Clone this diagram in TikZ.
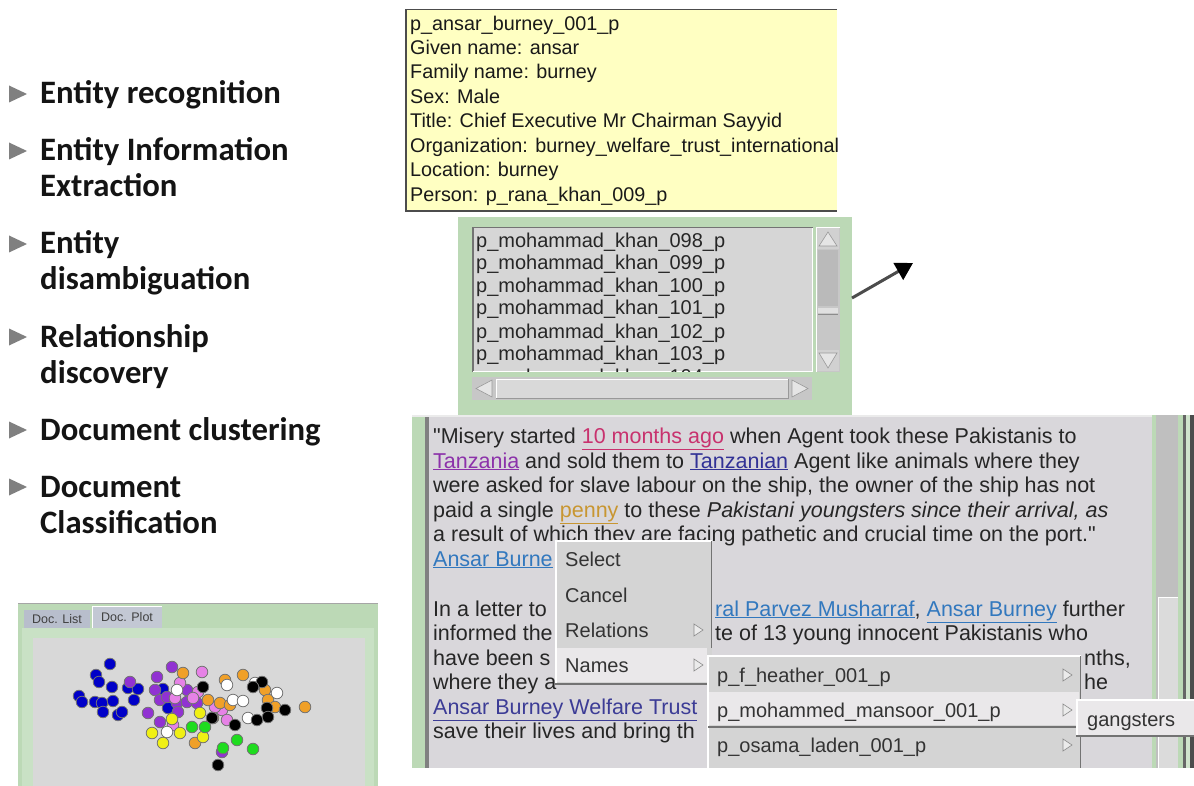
\documentclass[tikz,border=0pt]{standalone}
\usepackage{fontspec}
\setmainfont{Liberation Sans}
\newfontfamily\bulletfont{Carlito}
\usetikzlibrary{arrows.meta}
\definecolor{panelgreen}{RGB}{188,217,182}
\definecolor{docbg}{RGB}{217,215,219}
\definecolor{listbg}{RGB}{214,214,214}
\definecolor{menubg}{RGB}{212,212,212}
\definecolor{menuhl}{RGB}{234,232,234}
\definecolor{tipyellow}{RGB}{255,255,194}
\definecolor{lkred}{RGB}{200,50,110}
\definecolor{lkpurple}{RGB}{140,50,170}
\definecolor{lkblue}{RGB}{50,50,150}
\definecolor{lkorange}{RGB}{200,150,50}
\definecolor{lksteel}{RGB}{50,120,190}
\definecolor{lkindigo}{RGB}{60,60,150}
\definecolor{bullettext}{RGB}{20,20,20}
\definecolor{trigray}{RGB}{128,128,128}
\definecolor{plotbg}{RGB}{216,216,216}
\definecolor{tabfill}{RGB}{184,190,204}
\definecolor{dblue}{RGB}{0,0,200}
\definecolor{dpurple}{RGB}{145,50,210}
\definecolor{dpink}{RGB}{230,130,230}
\definecolor{dorange}{RGB}{240,160,40}
\definecolor{dyellow}{RGB}{240,240,20}
\definecolor{dgreen}{RGB}{30,220,30}
\newcommand{\lnk}[2]{\textcolor{#1}{\underline{#2}}}
\begin{document}
\begin{tikzpicture}[x=1pt,y=-1pt,
  bul/.style={anchor=base west,inner sep=0pt,text=bullettext,font=\bulletfont\bfseries\fontsize{32.7}{36}\selectfont},
  tiptext/.style={anchor=base west,inner sep=0pt,text=black!90,font=\fontsize{19.8}{24}\selectfont},
  listtext/.style={anchor=base west,inner sep=0pt,text=black!85,font=\fontsize{20}{24}\selectfont},
  doctext/.style={anchor=base west,inner sep=0pt,text=black!85,font=\fontsize{21.5}{24}\selectfont},
  menutext/.style={anchor=base west,inner sep=0pt,text=black!80,font=\fontsize{20}{24}\selectfont},
  tabtext/.style={inner sep=0pt,text=black!75,font=\fontsize{12.5}{14}\selectfont},
  tri/.style={fill=trigray},
  subarrow/.style={fill=white!92!black,draw=black!45,line width=0.6pt},
  dot/.style={draw=black!55,line width=0.8pt},
]
\useasboundingbox (0,0) rectangle (1194,786);
\fill[white] (0,0) rectangle (1194,786);

% ---------- bullet list ----------
\foreach \c in {94,151,244,337,430,487}
  \fill[tri] (9,\c-8.5) -- (27,\c) -- (9,\c+8.5) -- cycle;
\node[bul] (b1) at (40,104) {Entity recognition};
\node[bul] (b2) at (40,161) {Entity Information};
\node[bul] (b2b) at (40,197) {Extraction};
\node[bul] (b3) at (40,254) {Entity};
\node[bul] (b3b) at (40,290) {disambiguation};
\node[bul] (b4) at (40,347) {Relationship};
\node[bul] (b4b) at (40,383) {discovery};
\node[bul] (b5) at (40,440) {Document clustering};
\node[bul] (b6) at (40,497) {Document};
\node[bul] (b6b) at (40,533) {Classification};

% ---------- entity tooltip ----------
\fill[tipyellow] (405,9) rectangle (837,212);
\draw[black!70,line width=1.5pt] (405.75,212) -- (405.75,9.75) -- (837,9.75);
\draw[black!70,line width=2pt] (405,211) -- (837,211);
\node[tiptext] (t1) at (410,31) {p\_ansar\_burney\_001\_p};
\node[tiptext] (t2) at (410,55) {Given name: ansar};
\node[tiptext] (t3) at (410,79) {Family name: burney};
\node[tiptext] (t4) at (410,104) {Sex: Male};
\node[tiptext] (t5) at (410,128) {Title: Chief Executive Mr Chairman Sayyid};
\node[tiptext] (t6) at (410,153) {Organization: burney\_welfare\_trust\_international};
\node[tiptext] (t7) at (410,177) {Location: burney};
\node[tiptext] (t8) at (410,202) {Person: p\_rana\_khan\_009\_p};

% ---------- entity list box ----------
\fill[panelgreen] (458,217) rectangle (852,415);
\fill[listbg] (472,227) rectangle (813,372);
\draw[black!55,line width=1.5pt] (472.75,372) -- (472.75,227.75) -- (813,227.75);
\draw[white,line width=1pt] (473,371.5) -- (812.5,371.5) -- (812.5,228);
\begin{scope}
\clip (474,229) rectangle (812,371);
\node[listtext] (l1) at (476,248) {p\_mohammad\_khan\_098\_p};
\node[listtext] (l2) at (476,270) {p\_mohammad\_khan\_099\_p};
\node[listtext] (l3) at (476,293) {p\_mohammad\_khan\_100\_p};
\node[listtext] (l4) at (476,315) {p\_mohammad\_khan\_101\_p};
\node[listtext] (l5) at (476,338) {p\_mohammad\_khan\_102\_p};
\node[listtext] (l6) at (476,360) {p\_mohammad\_khan\_103\_p};
\node[listtext] (l7) at (476,383) {p\_mohammad\_khan\_104\_p};
\end{scope}
% vertical scroll bar
\fill[black!22] (816,227) rectangle (840,372);
\fill[black!27] (818,250) rectangle (838,306);
\draw[white,line width=0.8pt] (816.5,372) -- (816.5,227.5) -- (840,227.5);
\fill[black!18] (817,228) rectangle (839,249);
\fill[white!90!black,draw=black!40,line width=0.6pt] (819,246) -- (837,246) -- (828,232) -- cycle;
\fill[black!12] (818,308) rectangle (838,313);
\draw[black!45,line width=0.8pt] (818,314) -- (838,314);
\fill[black!18] (817,350) rectangle (839,371);
\fill[white!90!black,draw=black!40,line width=0.6pt] (819,353) -- (837,353) -- (828,368) -- cycle;
% horizontal scroll bar
\fill[black!22] (472,377) rectangle (812,400);
\fill[black!15] (496,379) rectangle (788,398);
\draw[white,line width=0.8pt] (496,398) -- (496,379) -- (788,379);
\draw[black!40,line width=0.8pt] (496,398) -- (788,398) -- (788,379);
\fill[white!90!black,draw=black!40,line width=0.6pt] (492,380) -- (492,397) -- (476,388.5) -- cycle;
\fill[white!90!black,draw=black!40,line width=0.6pt] (792,380) -- (792,397) -- (808,388.5) -- cycle;

% pointer arrow
\coordinate (arrS) at (852,298);
\coordinate (arrE) at (913,263);
\draw[line width=3pt,black!70,-{Triangle[length=17pt,width=19pt,color=black]}] (arrS) -- (arrE);

% ---------- document view ----------
\fill[panelgreen] (412,415) rectangle (425,768);
\fill[black!50] (425,415) rectangle (429,768);
\fill[docbg] (429,415) rectangle (1152,768);
\draw[white!92!black,line width=1.5pt] (412,415.75) -- (1194,415.75);
% right scroll bar of the document
\fill[panelgreen] (1152,415) rectangle (1156,768);
\fill[black!25] (1156,415) rectangle (1178,768);
\fill[black!14] (1158,597) rectangle (1178,768);
\draw[white,line width=1pt] (1158.5,768) -- (1158.5,597.5) -- (1178,597.5);
\fill[panelgreen] (1178,415) rectangle (1183,768);
\fill[black!60] (1183,415) rectangle (1186,768);
\fill[panelgreen!70!white] (1186,415) rectangle (1190,768);
\fill[black!70] (1190,415) rectangle (1194,768);

\node[doctext] (d1) at (433,443) {\textquotedbl Misery started \lnk{lkred}{10 months ago} when Agent took these Pakistanis to};
\node[doctext] (d2) at (433,468) {\lnk{lkpurple}{Tanzania} and sold them to \lnk{lkblue}{Tanzanian} Agent like animals where they};
\node[doctext] (d3) at (433,492) {were asked for slave labour on the ship, the owner of the ship has not};
\node[doctext] (d4) at (433,517) {paid a single \lnk{lkorange}{penny} to these \textit{Pakistani youngsters since their arrival, as}};
\node[doctext] (d5) at (433,541) {a result of which they are facing pathetic and crucial time on the port.\textquotedbl};
\node[doctext] (d6) at (433,566) {\lnk{lksteel}{Ansar Burne}};
\node[doctext] (d7) at (433,616) {In a letter to};
\node[doctext] (d7r) at (715,616) {\lnk{lksteel}{ral Parvez Musharraf}, \lnk{lksteel}{Ansar Burney} further};
\node[doctext] (d8) at (433,640) {informed the};
\node[doctext] (d8r) at (715,640) {te of 13 young innocent Pakistanis who};
\node[doctext] (d9) at (433,665) {have been s};
\node[doctext] (d9r) at (1084,665) {nths,};
\node[doctext] (d10) at (433,689) {where they a};
\node[doctext] (d10r) at (1084,689) {he};
\node[doctext] (d11) at (433,714) {\lnk{lkindigo}{Ansar Burney Welfare Trust}};
\node[doctext] (d12) at (433,738) {save their lives and bring th};

% ---------- context menu ----------
\fill[menubg] (555,540) rectangle (712,683);
\fill[menuhl] (556,648) rectangle (707,682);
\draw[white,line width=1.5pt] (555.75,683) -- (555.75,540.75) -- (712,540.75);
\draw[black!55,line width=1.5pt] (711.25,541) -- (711.25,648);
\draw[black!55,line width=2.5pt] (555,684) -- (707,684);
\node[menutext] (m1) at (565,566) {Select};
\node[menutext] (m2) at (565,602) {Cancel};
\node[menutext] (m3) at (565,637) {Relations};
\node[menutext] (m4) at (565,672) {Names};
\fill[subarrow] (694,624) -- (703,630) -- (694,636) -- cycle;
\fill[subarrow] (694,659) -- (703,665) -- (694,671) -- cycle;

% ---------- names submenu ----------
\fill[menubg] (707,655) rectangle (1081,768);
\fill[menuhl] (708,692) rectangle (1079,725);
\draw[white,line width=1.5pt] (707.75,768) -- (707.75,655.75) -- (1081,655.75);
\draw[black!55,line width=1.5pt] (1080.25,656) -- (1080.25,768);
\draw[black!55,line width=2.5pt] (708,727) -- (1079,727);
\node[menutext] (s1) at (717,682) {p\_f\_heather\_001\_p};
\node[menutext] (s2) at (717,717) {p\_mohammed\_mansoor\_001\_p};
\node[menutext] (s3) at (717,752) {p\_osama\_laden\_001\_p};
\fill[subarrow] (1063,669) -- (1072,675) -- (1063,681) -- cycle;
\fill[subarrow] (1063,704) -- (1072,710) -- (1063,716) -- cycle;
\fill[subarrow] (1063,739) -- (1072,745) -- (1063,751) -- cycle;

% ---------- relation submenu ----------
\fill[menuhl] (1076,699) rectangle (1194,735);
\draw[white,line width=1.5pt] (1076.75,735) -- (1076.75,699.75) -- (1194,699.75);
\draw[black!55,line width=2pt] (1076,736) -- (1194,736);
\node[menutext] (g1) at (1087,726) {gangsters};

% ---------- document plot ----------
\fill[panelgreen] (18,603) rectangle (378,786);
\draw[black!35,line width=1pt] (18,603.5) -- (378,603.5);
\fill[tabfill] (24,610) rectangle (90,628);
\fill[tabfill!85!white] (92,606) rectangle (162,628);
\draw[white,line width=0.8pt] (92.5,628) -- (92.5,606.5) -- (162,606.5);
\node[tabtext] (tab1) at (57,619) {Doc. List};
\node[tabtext] (tab2) at (127,617) {Doc. Plot};
\fill[panelgreen!80!white] (22,628) rectangle (374,786);
\fill[plotbg] (33,638) rectangle (365,786);

\foreach \x/\y in {110/664,96/675,99/682,112/687,79/696,82/702,95/702,102/703,113/701,103/712,118/715,122/712,128/688,138/689,134/700,163/689,168/708}
  \filldraw[dot,fill=dblue] (\x,\y) circle (5.8);
\foreach \x/\y in {172/667,157/677,155/690,160/700,148/713,160/722,187/690,177/703,178/712,187/702,197/703,130/682,222/752,167/697}
  \filldraw[dot,fill=dpurple] (\x,\y) circle (5.8);
\foreach \x/\y in {202/672,180/683,198/692,193/698,175/698,222/710,227/720,215/707,173/725}
  \filldraw[dot,fill=dpink] (\x,\y) circle (5.8);
\foreach \x/\y in {183/673,243/675,225/680,208/700,220/703,230/705,265/690,268/700,275/707,305/707,213/718,195/743}
  \filldraw[dot,fill=dorange] (\x,\y) circle (5.8);
\foreach \x/\y in {177/690,227/685,255/683,277/693,233/700,243/701,248/718,167/732}
  \filldraw[dot,fill=white] (\x,\y) circle (5.8);
\foreach \x/\y in {203/687,262/682,253/687,267/708,285/710,268/717,257/720,212/718,235/725,218/765}
  \filldraw[dot,fill=black] (\x,\y) circle (5.8);
\foreach \x/\y in {200/713,172/719,152/733,163/743,180/733,203/737}
  \filldraw[dot,fill=dyellow] (\x,\y) circle (5.8);
\foreach \x/\y in {192/727,205/727,237/740,223/748,253/749}
  \filldraw[dot,fill=dgreen] (\x,\y) circle (5.8);
\end{tikzpicture}
\end{document}
